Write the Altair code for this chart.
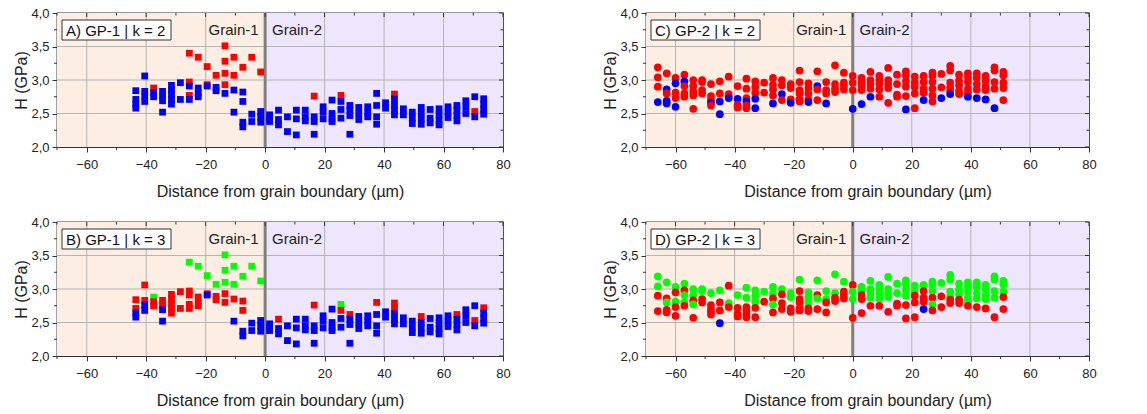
import altair as alt
import pandas as pd

# ---------------- GP-1 (squares): columns of indents ----------------
gp1_x = [-43.5, -40.5, -37.5, -34.5, -31.5, -28.5, -25.5, -22.5, -19.5, -16.5,
         -13.5, -10.5, -7.5, -4.5, -1.5, 1.5, 4.5, 7.5, 10.5, 13.5,
         16.5, 19.5, 22.5, 25.5, 28.5, 31.5, 34.5, 37.5, 40.5, 43.5,
         46.5, 49.5, 52.5, 55.5, 58.5, 61.5, 64.5, 67.5, 70.5, 73.5]
gp1_h = [[2.84, 2.71, 2.64, 2.58], [3.06, 2.83, 2.76, 2.68], [2.88, 2.81, 2.75],
         [2.83, 2.76, 2.69, 2.52], [2.92, 2.85, 2.78, 2.71, 2.64], [2.96, 2.71],
         [3.40, 2.97, 2.91, 2.77, 2.71], [3.34, 2.88, 2.80, 2.75], [3.20, 2.93, 2.91],
         [3.07, 2.89, 2.84], [3.51, 3.28, 3.10, 2.93, 2.80], [3.34, 3.07, 2.85, 2.52],
         [3.19, 2.82, 2.68, 2.37, 2.30], [3.34, 2.49, 2.38], [3.12, 2.53, 2.45, 2.37],
         [2.48, 2.43, 2.38], [2.55, 2.41, 2.33], [2.45, 2.23], [2.55, 2.42, 2.18],
         [2.55, 2.45, 2.39], [2.76, 2.45, 2.38, 2.19], [2.60, 2.52, 2.42],
         [2.70, 2.50, 2.42, 2.38], [2.77, 2.68, 2.56, 2.43], [2.62, 2.55, 2.47, 2.19],
         [2.59, 2.50, 2.41], [2.60, 2.52, 2.45], [2.80, 2.62, 2.45, 2.34], [2.66, 2.58],
         [2.79, 2.72, 2.63, 2.55, 2.48], [2.57, 2.48], [2.52, 2.43, 2.35],
         [2.59, 2.50, 2.42, 2.34], [2.56, 2.43, 2.36], [2.57, 2.48, 2.40, 2.33],
         [2.60, 2.52, 2.44], [2.62, 2.55, 2.47, 2.39], [2.69, 2.60, 2.50],
         [2.75, 2.53, 2.45], [2.72, 2.64, 2.56, 2.49]]
# cluster per point: B = blue, R = red, G = green
gp1_k2 = ["BBBB", "BBBB", "RBB", "BBBB", "BBBBB", "BB", "RRBRB", "RBBB", "RRB", "RBB",
          "RRRRB", "RRBB", "RBBBB", "RBB", "RBBB", "BBB", "BBB", "BB", "BBB", "BBB",
          "RBBB", "BBB", "BBBB", "RBBB", "BBBB", "BBB", "BBB", "BBBB", "BB", "RBBBB",
          "BB", "BBB", "BBBB", "BBB", "BBBB", "BBB", "BBBB", "BBB", "BRB", "BBBB"]
gp1_k3 = ["RRBB", "RRBB", "GRR", "RRBB", "RRRRR", "RR", "GRRRR", "GRRR", "GRB", "GRR",
          "GGGRR", "GGRB", "GRRBB", "GBB", "GBBB", "BBB", "RBB", "BB", "BBB", "BBB",
          "RBBB", "BBB", "BBBB", "GRBB", "RBBB", "BBB", "BBB", "RBBB", "BB", "RRBBB",
          "BB", "BBB", "RBBB", "BBB", "BBBB", "BBB", "RBBB", "BBB", "BRB", "RBBB"]

# ---------------- GP-2 (circles): columns of indents ----------------
gp2_x = [-66, -63, -60, -57, -54, -51, -48, -45, -42, -39, -36, -33, -30, -27, -24,
         -21, -18, -15, -12, -9, -6, -3, 0, 3, 6, 9, 12, 15, 18, 21, 24, 27, 30,
         33, 36, 39, 42, 45, 48, 51]
gp2_h = [[3.19, 3.04, 2.90, 2.67], [3.10, 2.86, 2.80, 2.69, 2.65],
         [3.03, 2.95, 2.81, 2.73, 2.60], [3.08, 2.98, 2.91, 2.80, 2.75],
         [3.00, 2.91, 2.83, 2.77, 2.57], [3.00, 2.97, 2.85, 2.80],
         [2.94, 2.76, 2.70, 2.66, 2.62], [2.98, 2.80, 2.68, 2.49],
         [3.05, 2.79, 2.75, 2.73], [2.91, 2.72, 2.63, 2.59],
         [3.02, 2.87, 2.73, 2.68, 2.62, 2.58], [2.98, 2.90, 2.81, 2.72, 2.58],
         [2.96, 2.81], [3.03, 2.93, 2.86, 2.77, 2.65], [3.00, 2.92, 2.79, 2.70],
         [2.94, 2.88, 2.71, 2.66], [3.14, 2.97, 2.85, 2.80, 2.71, 2.68],
         [2.95, 2.88, 2.80, 2.71, 2.67], [3.13, 2.91, 2.86, 2.70],
         [2.97, 2.85, 2.80, 2.65], [3.22, 2.94, 2.87, 2.82], [3.11, 2.96, 2.91, 2.86],
         [3.06, 2.96, 2.85, 2.57], [3.03, 2.97, 2.91, 2.85, 2.64],
         [3.12, 3.00, 2.94, 2.87, 2.75], [3.06, 3.00, 2.94, 2.86, 2.75],
         [3.18, 3.00, 2.94, 2.88, 2.66], [3.08, 2.94, 2.78, 2.75],
         [3.13, 3.07, 2.98, 2.90, 2.76, 2.56], [3.05, 2.96, 2.90, 2.80, 2.58],
         [3.06, 2.97, 2.87, 2.81, 2.70], [3.11, 3.06, 2.97, 2.87, 2.77, 2.68],
         [3.09, 2.89, 2.73], [3.21, 3.14, 2.96, 2.89, 2.84, 2.79],
         [3.08, 2.99, 2.92, 2.84, 2.79], [3.10, 3.04, 2.97, 2.87, 2.81, 2.75],
         [3.10, 3.03, 2.94, 2.86, 2.73], [3.06, 2.99, 2.90, 2.85, 2.71],
         [3.19, 3.14, 2.97, 2.87, 2.58], [3.12, 3.07, 2.96, 2.88, 2.70]]
gp2_k2 = ["RRRB", "RBRBB", "RBRRB", "RBRRR", "RRRRR", "RRRR", "RRRBR", "RRBB", "RRRB",
          "RBRR", "RRRBRR", "RRRBB", "RR", "RRRRB", "RRBR", "RRRB", "RRRRRR", "RRRRB",
          "RBRR", "RRRB", "RRRR", "RRRR", "RRRB", "RRRRB", "RRRRB", "RRRRR", "RRRRR",
          "RRRR", "RRRRRB", "RRRRR", "RRRRB", "RRRRRR", "RRB", "RRRRRB", "RRRRR",
          "RRRRRB", "RRRRB", "RRRRB", "RRRRB", "RRRRR"]
gp2_k3 = ["GGRR", "GRGRR", "GRGRR", "GRGGR", "GGRGR", "GGRR", "GRRRR", "GRRB", "RGGR",
          "GRRR", "GGRRRR", "GGGRR", "GR", "GGRGR", "GRRR", "GGRR", "GRRRRR", "GGGRR",
          "GRGR", "GGRR", "GGRR", "GRRR", "RGGR", "GGRRR", "GGGGR", "GGGGR", "GGGGR",
          "GGRR", "GGGGRR", "GGRRR", "GRRRB", "GGGRGR", "GRR", "GGGGRR", "GGGRR",
          "GGGGGR", "GGGGR", "GGGGR", "GGGGR", "GGGRR"]

panel_labels = ["A) GP-1 | k = 2", "B) GP-1 | k = 3", "C) GP-2 | k = 2", "D) GP-2 | k = 3"]
grain_labels = ["Grain-1", "Grain-2"]
x_title = "Distance from grain boundary (µm)"
y_title = "H (GPa)"
x_major = [-60, -40, -20, 0, 20, 40, 60, 80]
x_minor = [-70, -50, -30, -10, 10, 30, 50, 70]
y_major = [2.0, 2.5, 3.0, 3.5, 4.0]
y_minor = [2.25, 2.75, 3.25, 3.75]
x_grid = [-60, -40, -20, 20, 40, 60]
y_grid = [2.5, 3.0, 3.5]
regions = {"x0": [-70, 0], "x1": [0, 80], "y0": [2.0, 2.0], "y1": [4.0, 4.0],
           "fill": ["#FCEEE2", "#EEE6FC"]}

FONT = "Liberation Sans"
COLORS = {"B": "#0000FF", "R": "#FF0000", "G": "#00FF00"}
H = 134
AX = "#333333"


def flatten(xs, hs, codes):
    rows = []
    for x, hl, cl in zip(xs, hs, codes):
        for h, c in zip(hl, cl):
            rows.append({"x": x, "h": h, "c": COLORS[c]})
    return pd.DataFrame(rows)


xs = alt.Scale(domain=[-70, 80], nice=False, zero=False)
ys = alt.Scale(domain=[2.0, 4.0], nice=False, zero=False)

x_axis = alt.Axis(
    values=x_major, grid=False, labelFont=FONT, labelFontSize=13, labelColor="#222",
    titleFont=FONT, titleFontSize=16, titleFontWeight="normal", titleColor="#222",
    tickSize=5, tickColor=AX, domainColor=AX, labelPadding=6, titlePadding=12,
    labelFlush=False,
)
y_axis = alt.Axis(
    values=y_major, grid=False, labelFont=FONT, labelFontSize=13, labelColor="#222",
    titleFont=FONT, titleFontSize=16, titleFontWeight="normal", titleColor="#222",
    labelExpr="replace(format(datum.value, '.1f'), '.', ',')",
    tickSize=5, tickColor=AX, domainColor=AX, labelPadding=3, titlePadding=1,
    labelFlush=False,
)


def X(f):
    return alt.X(f, scale=xs, axis=x_axis, title=x_title)


def Y(f):
    return alt.Y(f, scale=ys, axis=y_axis, title=y_title)


def panel(df, shape, label, w):
    bg = alt.Chart(pd.DataFrame(regions)).mark_rect().encode(
        x=X("x0:Q"), x2="x1:Q", y=Y("y0:Q"), y2="y1:Q",
        color=alt.Color("fill:N", scale=None),
    )
    gx = alt.Chart(pd.DataFrame({"v": x_grid})).mark_rule(color="#B4B4B4", strokeWidth=1).encode(
        x=X("v:Q"))
    gy = alt.Chart(pd.DataFrame({"v": y_grid})).mark_rule(color="#B4B4B4", strokeWidth=1).encode(
        y=Y("v:Q"))
    gb = alt.Chart(pd.DataFrame({"v": [0]})).mark_rule(color="#7F7F7F", strokeWidth=3).encode(
        x=X("v:Q"))
    # minor ticks (outside, bottom/left) and inner ticks on top/right frame
    mx = alt.Chart(pd.DataFrame({"v": x_minor})).mark_rule(color=AX, strokeWidth=1).encode(
        x=X("v:Q"), y=alt.value(H), y2=alt.value(H + 3))
    my = alt.Chart(pd.DataFrame({"v": y_minor})).mark_rule(color=AX, strokeWidth=1).encode(
        y=Y("v:Q"), x=alt.value(0), x2=alt.value(-3))
    tx1 = alt.Chart(pd.DataFrame({"v": x_major})).mark_rule(color=AX, strokeWidth=1).encode(
        x=X("v:Q"), y=alt.value(0), y2=alt.value(4))
    tx2 = alt.Chart(pd.DataFrame({"v": x_minor})).mark_rule(color=AX, strokeWidth=1).encode(
        x=X("v:Q"), y=alt.value(0), y2=alt.value(2.5))
    ty1 = alt.Chart(pd.DataFrame({"v": y_major})).mark_rule(color=AX, strokeWidth=1).encode(
        y=Y("v:Q"), x=alt.value(w), x2=alt.value(w - 4))
    ty2 = alt.Chart(pd.DataFrame({"v": y_minor})).mark_rule(color=AX, strokeWidth=1).encode(
        y=Y("v:Q"), x=alt.value(w), x2=alt.value(w - 2.5))
    if shape == "square":
        m = alt.Chart(df).mark_square(size=46, opacity=1)
    else:
        m = alt.Chart(df).mark_circle(size=60, opacity=1)
    pts = m.encode(x=X("x:Q"), y=Y("h:Q"), color=alt.Color("c:N", scale=None))
    g1 = alt.Chart(pd.DataFrame({"t": [grain_labels[0]], "x": [-2.2], "y": [3.75]})).mark_text(
        font=FONT, fontSize=15, color="#222", baseline="middle", align="right").encode(
        x=X("x:Q"), y=Y("y:Q"), text="t:N")
    g2 = alt.Chart(pd.DataFrame({"t": [grain_labels[1]], "x": [2.3], "y": [3.75]})).mark_text(
        font=FONT, fontSize=15, color="#222", baseline="middle", align="left").encode(
        x=X("x:Q"), y=Y("y:Q"), text="t:N")
    box = alt.Chart(pd.DataFrame({"t": [label]})).mark_rect(
        fill="white", stroke=AX, strokeWidth=1).encode(
        x=alt.value(5), x2=alt.value(114), y=alt.value(7), y2=alt.value(27))
    bt = alt.Chart(pd.DataFrame({"t": [label]})).mark_text(
        font=FONT, fontSize=15, color="#111", align="left", baseline="middle").encode(
        x=alt.value(9), y=alt.value(17.5), text="t:N")
    return alt.layer(bg, gx, gy, gb, mx, my, tx1, tx2, ty1, ty2, pts, g1, g2, box, bt
                     ).properties(width=w, height=H)


d1a = flatten(gp1_x, gp1_h, gp1_k2)
d1b = flatten(gp1_x, gp1_h, gp1_k3)
d2c = flatten(gp2_x, gp2_h, gp2_k2)
d2d = flatten(gp2_x, gp2_h, gp2_k3)

A = panel(d1a, "square", panel_labels[0], 446)
B = panel(d1b, "square", panel_labels[1], 446)
C = panel(d2c, "circle", panel_labels[2], 443)
D = panel(d2d, "circle", panel_labels[3], 443)

chart = alt.vconcat(
    alt.hconcat(A, C, spacing=91),
    alt.hconcat(B, D, spacing=91),
    spacing=15,
).properties(
    padding={"left": 13, "top": 6, "right": 5, "bottom": 5},
    background="white",
).configure_view(
    stroke=AX, strokeWidth=1.3
)

chart.save("out.html", embed_options={"renderer": "svg", "actions": False})
